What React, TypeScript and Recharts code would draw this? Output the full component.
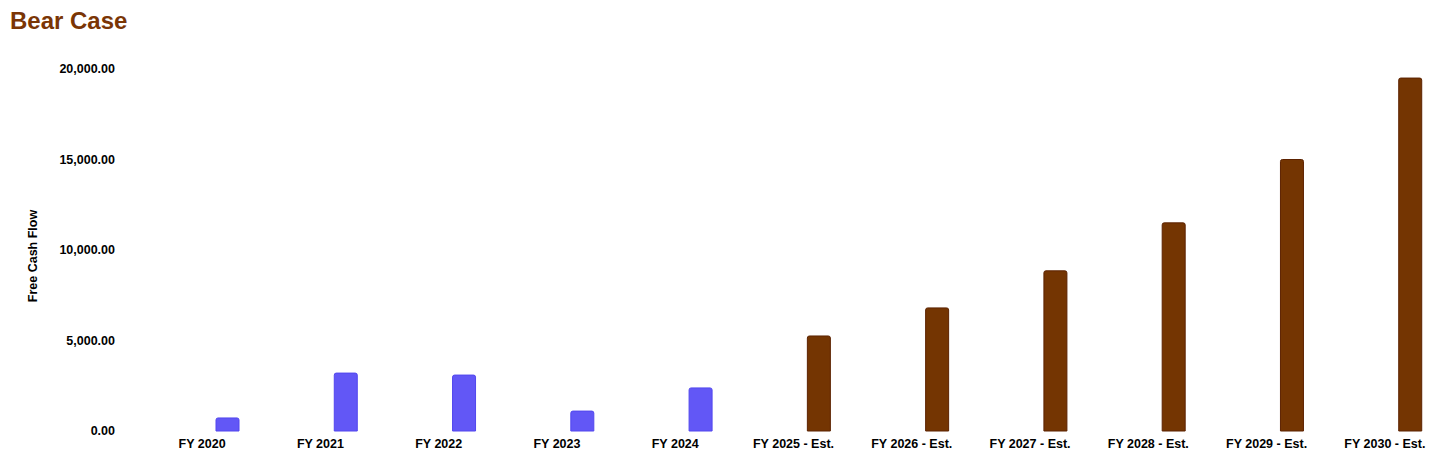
import React from "react";
import { BarChart, Bar, XAxis, YAxis, Cell } from "recharts";

// fiscal years, actuals first then the bear-case estimates
const categories = [
  "FY 2020",
  "FY 2021",
  "FY 2022",
  "FY 2023",
  "FY 2024",
  "FY 2025 - Est.",
  "FY 2026 - Est.",
  "FY 2027 - Est.",
  "FY 2028 - Est.",
  "FY 2029 - Est.",
  "FY 2030 - Est.",
];
const freeCashFlow = [720, 3200, 3090, 1100, 2380, 5250, 6800, 8850, 11500, 15000, 19500];
const yTicks = [0, 5000, 10000, 15000, 20000];

const ACTUAL_FILL = "#6257F6";
const ACTUAL_STROKE = "#5247EE";
const EST_FILL = "#743502";
const EST_STROKE = "#5C2200";

const data = categories.map((name, i) => ({
  name,
  fcf: freeCashFlow[i],
}));

const fmt = (v: number) =>
  v.toLocaleString("en-US", { minimumFractionDigits: 2, maximumFractionDigits: 2 });

const tickStyle = {
  fontFamily: "'Liberation Sans', Arial, sans-serif",
  fontSize: 12.5,
  fontWeight: 700,
  fill: "#000",
};

export default function App() {
  return (
    <div style={{ position: "relative", width: 1456, height: 463, margin: -8, background: "#fff" }}>
      <div
        style={{
          position: "absolute",
          left: 10,
          top: 7,
          fontFamily: "'Liberation Sans', Arial, sans-serif",
          fontWeight: 700,
          fontSize: 24,
          color: "#7A3505",
          lineHeight: "normal",
        }}
      >
        Bear Case
      </div>
      <BarChart
        width={1456}
        height={463}
        data={data}
        margin={{ top: 69, right: 12, left: 0, bottom: 0 }}
        barSize={23}
        barGap={27}
      >
        <XAxis
          dataKey="name"
          axisLine={false}
          tickLine={false}
          tickSize={0}
          tickMargin={8}
          height={32}
          interval={0}
          tick={tickStyle}
        />
        <YAxis
          width={143}
          domain={[0, 20000]}
          ticks={yTicks}
          axisLine={false}
          tickLine={false}
          tickSize={0}
          tickMargin={28}
          tickFormatter={fmt}
          tick={tickStyle}
          label={{
            value: "Free Cash Flow",
            angle: -90,
            position: "insideLeft",
            offset: 33,
            dy: 6,
            style: { ...tickStyle, textAnchor: "middle" },
          }}
        />
        {/* empty slot so the bars sit right of the tick, as in the source */}
        <Bar dataKey="spacer" isAnimationActive={false} />
        <Bar dataKey="fcf" isAnimationActive={false} radius={[2, 2, 0, 0]} strokeWidth={1}>
          {data.map((d) => {
            const est = d.name.includes("Est.");
            return (
              <Cell
                key={d.name}
                fill={est ? EST_FILL : ACTUAL_FILL}
                stroke={est ? EST_STROKE : ACTUAL_STROKE}
              />
            );
          })}
        </Bar>
      </BarChart>
    </div>
  );
}
